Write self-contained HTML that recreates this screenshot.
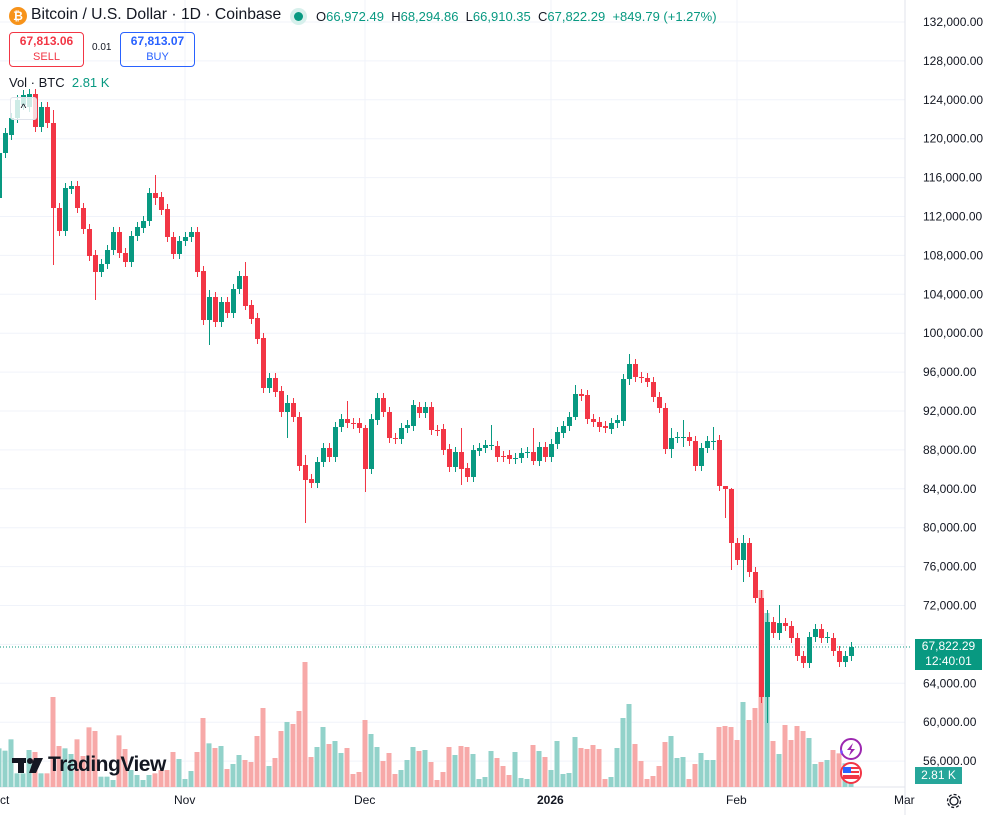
<!DOCTYPE html>
<html><head><meta charset="utf-8">
<style>
body{margin:0;background:#fff;font-family:"Liberation Sans",sans-serif;}
#w{position:relative;width:994px;height:815px;overflow:hidden;background:#fff}
svg{position:absolute;left:0;top:0}
.t{position:absolute;white-space:nowrap;color:#131722}
</style></head><body><div id="w">
<svg id="s" width="994" height="815" xmlns="http://www.w3.org/2000/svg"></svg>
<div class="t" style="left:9px;top:7px;width:18px;height:18px;border-radius:50%;background:#f7931a;color:#fff;font-size:12px;font-weight:bold;text-align:center;line-height:18px">₿</div>
<div class="t" style="left:31px;top:6px;font-size:15.7px">Bitcoin / U.S. Dollar · 1D · Coinbase</div>
<div class="t" style="left:290px;top:8px;width:17px;height:17px;border-radius:50%;background:#d7f0ec"></div>
<div class="t" style="left:294px;top:12px;width:9px;height:9px;border-radius:50%;background:#089981"></div>
<div class="t" style="left:316px;top:9px;font-size:13px">O<span style="color:#089981">66,972.49</span> &nbsp;H<span style="color:#089981">68,294.86</span> &nbsp;L<span style="color:#089981">66,910.35</span> &nbsp;C<span style="color:#089981">67,822.29</span> &nbsp;<span style="color:#089981">+849.79 (+1.27%)</span></div>
<div class="t" style="left:9px;top:32px;width:73px;height:32px;border:1px solid #f23645;border-radius:4px;color:#f23645;text-align:center;font-size:12px;line-height:15px;padding-top:1px"><b>67,813.06</b><br><span style="font-size:11px">SELL</span></div>
<div class="t" style="left:92px;top:42px;font-size:10px">0.01</div>
<div class="t" style="left:120px;top:32px;width:73px;height:32px;border:1px solid #2962ff;border-radius:4px;color:#2962ff;text-align:center;font-size:12px;line-height:15px;padding-top:1px"><b>67,813.07</b><br><span style="font-size:11px">BUY</span></div>
<div class="t" style="left:9px;top:75px;font-size:13px">Vol · BTC &nbsp;<span style="color:#089981">2.81 K</span></div>
<div class="t" style="left:10px;top:97px;width:25px;height:21px;border:1px solid #e0e3eb;border-radius:3px;background:rgba(255,255,255,.8);text-align:center;font-size:12px;line-height:21px">^</div>
<div class="t" style="left:48px;top:753px;font-size:21px;font-weight:bold;letter-spacing:-0.5px">TradingView</div>
<div class="t" style="left:915px;top:639px;width:67px;height:31px;background:#089981;color:#fff;font-size:12px;line-height:15px;text-align:center">67,822.29<br>12:40:01</div>
<div class="t" style="left:915px;top:767px;width:47px;height:17px;background:#26a69a;color:#fff;font-size:12px;line-height:17px;text-align:center">2.81 K</div>
<div class="t" style="left:0px;top:793px;font-size:12px">ct</div>
<div class="t" style="left:174px;top:793px;font-size:12px">Nov</div>
<div class="t" style="left:354px;top:793px;font-size:12px">Dec</div>
<div class="t" style="left:537px;top:793px;font-size:12px;font-weight:bold">2026</div>
<div class="t" style="left:726px;top:793px;font-size:12px">Feb</div>
<div class="t" style="left:894px;top:793px;font-size:12px">Mar</div>
</div>
<script>
var c=[[153,198,'g'],[133,153,'g'],[118,135,'g'],[100,118,'g'],[95,105,'g'],[94,107,'g'],[94,127,'r'],[107,127,'g'],[107,123,'r'],[123,208,'r',110,265],
[208,231,'r'],[188,231,'g'],[186,189,'g'],[186,208,'r'],[208,229,'r'],[229,256,'r'],[255,272,'r',250,300],[264,272,'g'],[250,264,'g'],[232,250,'g'],
[232,253,'r'],[253,262,'r'],[236,262,'g'],[227,236,'g'],[221,228,'g'],[193,221,'g'],[193,198,'r',175,205],[197,210,'r'],[209,237,'r'],[237,254,'r'],
[241,254,'g'],[237,241,'g'],[232,237,'g'],[232,272,'r'],[271,320,'r'],[297,320,'g',290,345],[297,322,'r'],[302,322,'g'],[302,313,'r'],[289,313,'g'],
[276,289,'g'],[276,306,'r',262,310],[305,319,'r'],[318,339,'r'],[338,388,'r'],[378,388,'g'],[378,392,'r'],[391,412,'r'],[403,412,'g',395,438],[403,417,'r'],
[417,466,'r'],[465,480,'r',455,523],[479,483,'r'],[462,483,'g'],[448,462,'g'],[448,457,'r'],[427,457,'g'],[419,427,'g'],[419,423,'r',401,428],[423,424,'r'],
[423,428,'r'],[428,469,'r',425,492],[419,469,'g'],[398,420,'g'],[398,412,'r'],[412,438,'r'],[438,439,'r'],[428,439,'g'],[425,428,'g'],[405,426,'g'],
[407,413,'r'],[407,413,'g'],[407,430,'r'],[430,431,'r'],[429,450,'r'],[449,467,'r'],[452,467,'g'],[452,469,'r',428,485],[468,477,'r'],[450,477,'g'],
[448,451,'g'],[445,448,'g'],[445,446,'g',425,450],[446,457,'r'],[456,457,'r'],[455,459,'r'],[458,459,'g'],[453,458,'g'],[452,453,'g'],[452,461,'r',428,465],
[447,461,'g'],[447,457,'r'],[444,457,'g'],[432,444,'g'],[426,433,'g'],[417,426,'g'],[394,417,'g',385,420],[394,396,'r'],[395,419,'r'],[419,422,'r'],
[422,427,'r'],[426,428,'r'],[423,429,'g'],[420,423,'g'],[379,421,'g'],[364,379,'g',354,385],[364,377,'r'],[377,378,'r'],[378,382,'r'],[382,397,'r'],
[397,408,'r'],[408,449,'r'],[438,449,'g',428,458],[437,438,'g'],[437,438,'g',420,447],[437,441,'r'],[441,466,'r'],[448,466,'g'],[441,448,'g'],[441,442,'g',427,450],
[440,486,'r'],[486,489,'r',486,518],[489,543,'r',488,570],[543,560,'r'],[543,560,'g',535,582],[543,572,'r'],[572,598,'r'],[598,697,'r',590,703],[622,697,'g',610,723],[622,633,'r'],
[623,633,'g',605,640],[623,626,'r'],[626,638,'r'],[638,656,'r'],[656,663,'r'],[637,663,'g'],[629,637,'g'],[629,638,'r'],[637,638,'g'],[638,651,'r'],
[651,662,'r'],[656,662,'g'],[647,656,'g']];
var v=[295,302,268,370,370,300,306,370,370,141,288,295,312,268,318,232,243,380,380,390,256,297,360,375,390,375,370,360,360,306,327,387,363,306,204,280,294,288,357,342,315,330,336,258,174,348,324,243,216,222,183,36,321,291,231,282,273,309,294,372,366,210,252,291,333,309,372,360,330,291,303,300,336,390,366,291,
315,288,291,312,387,381,303,324,348,375,306,384,387,285,303,321,360,273,372,369,261,294,297,285,297,387,381,294,204,162,282,333,387,378,348,276,258,324,321,387,342,309,330,330,231,228,231,270,156,210,174,-180,-111,273,312,225,270,228,243,264,342,336,330,300,310,340,400];
var h='';
for(var k=0;k<20;k++){var y=22+k*38.9;h+='<line x1="0" x2="905" y1="'+y+'" y2="'+y+'" stroke="#f0f3fa"/>';
h+='<text x="923" y="'+(y+4)+'" font-size="12" fill="#131722" font-family="Liberation Sans">'+(132-4*k)+',000.00</text>';}
[185,365,551,737].forEach(function(x){h+='<line x1="'+x+'" x2="'+x+'" y1="0" y2="787" stroke="#f0f3fa"/>';});
h+='<line x1="905" x2="905" y1="0" y2="815" stroke="#e0e3eb"/><line x1="0" x2="905" y1="787" y2="787" stroke="#e0e3eb"/>';
for(var i=0;i<v.length&&i<c.length;i++){var x=-1+6*i,t=650+v[i]/3;
h+='<rect x="'+(x-2.5)+'" y="'+t+'" width="5" height="'+(787-t)+'" fill="'+(c[i][2]=='g'?'#92d2ca':'#f7a9a8')+'"/>';}
h+='<line x1="0" x2="912" y1="647" y2="647" stroke="#089981" stroke-dasharray="1,2"/>';
for(var i=0;i<c.length;i++){var d=c[i],x=-1+6*i,col=d[2]=='g'?'#089981':'#f23645';
var wt=d[3]||d[0]-5,wb=d[4]||d[1]+5;
h+='<line x1="'+(x+0.5)+'" x2="'+(x+0.5)+'" y1="'+wt+'" y2="'+wb+'" stroke="'+col+'"/>';
h+='<rect x="'+(x-2)+'" y="'+d[0]+'" width="5" height="'+Math.max(1,d[1]-d[0])+'" fill="'+col+'"/>';}
h+='<g fill="#131722"><rect x="12" y="758" width="14" height="5"/><rect x="18" y="758" width="6" height="15"/><circle cx="30" cy="761" r="3"/><path d="M34 758h9l-7 15h-7z"/></g>';
h+='<circle cx="851" cy="749" r="10" fill="#fff" stroke="#9c27b0" stroke-width="2"/><path d="M853 743l-6 7h4l-2 6 6-7h-4z" fill="#9c27b0"/><path d="M840 752l1.5-3 1.5 3-1.5 3z" fill="#7c4dff"/>';
h+='<circle cx="851" cy="773" r="10" fill="#fff" stroke="#f23645" stroke-width="2"/><rect x="843" y="767" width="16" height="12" rx="2" fill="#f23645"/><rect x="843" y="769" width="16" height="2" fill="#fff"/><rect x="843" y="773" width="16" height="2" fill="#fff"/><rect x="843" y="767" width="8" height="6" fill="#2962ff"/>';
h+='<circle cx="954" cy="801" r="4" fill="none" stroke="#131722" stroke-width="1.3"/><circle cx="954" cy="801" r="6.5" fill="none" stroke="#131722" stroke-width="1.3" stroke-dasharray="3,2"/>';
document.getElementById('s').innerHTML=h;
</script>
</body></html>
